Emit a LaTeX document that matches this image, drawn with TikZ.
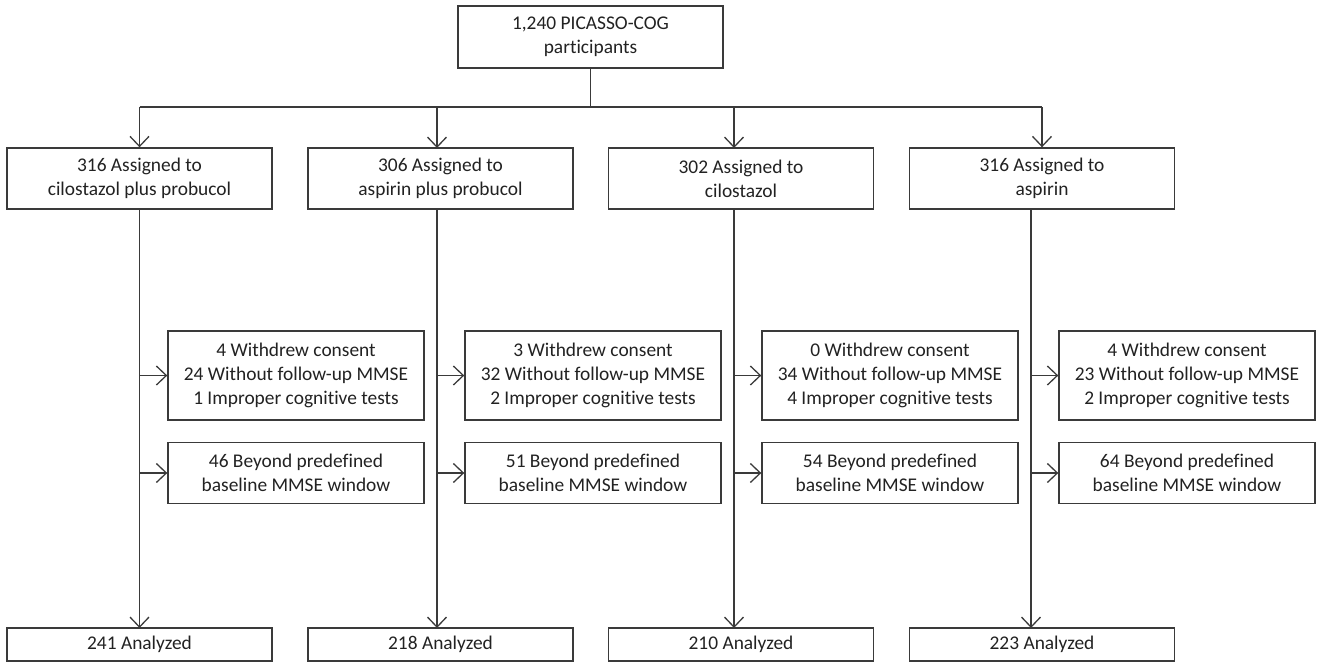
\documentclass[tikz,border=0pt]{standalone}
\usepackage{fontspec}
\setmainfont{Carlito}[Ligatures={NoCommon}]
\usetikzlibrary{arrows.meta}
\definecolor{ln}{HTML}{3A3A3A}
\definecolor{tx}{HTML}{222222}
\tikzset{
  box/.style={draw=ln, line width=1.4pt, fill=white, text=tx, align=center, inner sep=0pt,
    font=\fontsize{19.4}{24}\selectfont},
  assignbox/.style={box, minimum width=265pt, minimum height=61pt},
  exbox/.style={box, minimum width=256pt},
  anbox/.style={box, minimum width=265pt, minimum height=33pt},
  conn/.style={draw=ln, line width=1.4pt},
  arr/.style={conn, -{Straight Barb[length=10pt,width=19pt,line width=1.3pt]}},
}
\begin{document}
\begin{tikzpicture}[x=1pt,y=-1pt]
\useasboundingbox (0,0) rectangle (1317,667);
% top
\node[box, minimum width=265pt, minimum height=62pt] (top) at (590.5,37) {1,240 PICASSO-COG\\participants};
% assigned
\node[assignbox] (a1) at (139.5,178.5) {316 Assigned to\\cilostazol plus probucol};
\node[assignbox] (a2) at (440.5,178.5) {306 Assigned to\\aspirin plus probucol};
\node[assignbox] (a3) at (741,178.5) {302 Assigned to\\cilostazol};
\node[assignbox] (a4) at (1042,178.5) {316 Assigned to\\aspirin};
% exclusions
\node[exbox, minimum height=89pt] (e1) at (296,375.5) {4 Withdrew consent\\24 Without follow-up MMSE\\1 Improper cognitive tests};
\node[exbox, minimum height=89pt] (e2) at (593,375.5) {3 Withdrew consent\\32 Without follow-up MMSE\\2 Improper cognitive tests};
\node[exbox, minimum height=89pt] (e3) at (890,375.5) {0 Withdrew consent\\34 Without follow-up MMSE\\4 Improper cognitive tests};
\node[exbox, minimum height=89pt] (e4) at (1187,375.5) {4 Withdrew consent\\23 Without follow-up MMSE\\2 Improper cognitive tests};
\node[exbox, minimum height=61pt] (f1) at (296,473) {46 Beyond predefined\\baseline MMSE window};
\node[exbox, minimum height=61pt] (f2) at (593,473) {51 Beyond predefined\\baseline MMSE window};
\node[exbox, minimum height=61pt] (f3) at (890,473) {54 Beyond predefined\\baseline MMSE window};
\node[exbox, minimum height=61pt] (f4) at (1187,473) {64 Beyond predefined\\baseline MMSE window};
% analyzed
\node[anbox] (n1) at (139.5,644.5) {241 Analyzed};
\node[anbox] (n2) at (440.5,644.5) {218 Analyzed};
\node[anbox] (n3) at (741,644.5) {210 Analyzed};
\node[anbox] (n4) at (1042,644.5) {223 Analyzed};
% split
\coordinate (hl) at (139.5,107);
\coordinate (hr) at (1042,107);
\draw[conn] (top.south) -- (top.south |- hl);
\draw[conn] (hl) -- (hr);
\draw[arr] (hl) -- (a1.north);
\draw[arr] (437,107) -- (437,148);
\draw[arr] (734,107) -- (734,148);
\draw[arr] (hr) -- (a4.north);
% columns
\foreach \i/\x in {1/139.5,2/437,3/734,4/1031}{
  \draw[arr] (\x,209) -- (\x,628);
  \draw[arr] (\x,375.5) -- (e\i.west);
  \draw[arr] (\x,473) -- (f\i.west);
}
\end{tikzpicture}
\end{document}
